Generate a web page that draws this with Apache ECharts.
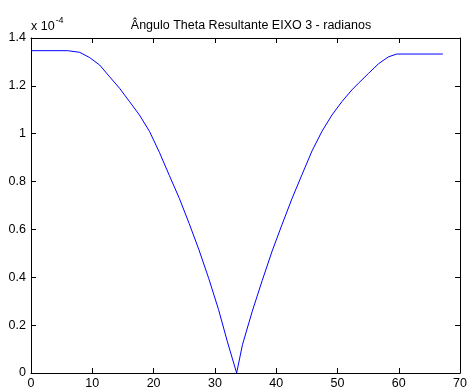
<!DOCTYPE html>
<html>
<head>
<meta charset="utf-8">
<script src="https://cdn.jsdelivr.net/npm/echarts@6/dist/echarts.min.js"></script>
<style>
  html, body { margin: 0; padding: 0; background: #fff; }
  #chart { width: 470px; height: 390px; }
</style>
</head>
<body>
<div id="chart"></div>
<script>
// valores em unidades de 10^-4 rad
var xValues = [0, 6.0, 7.96, 9.58, 11.2, 12.83, 14.45, 16.08, 17.7, 19.33, 20.95, 22.58, 24.2, 25.8, 27.4, 29.0, 30.6, 32.05, 33.55,
  34.5, 36.1, 37.73, 39.35, 40.98, 42.6, 44.23, 45.85, 47.47, 49.1, 50.72, 52.35, 53.43, 55.06, 56.68, 58.3, 59.66, 67.2];
var yValues = [1.347, 1.347, 1.340, 1.318, 1.287, 1.238, 1.190, 1.134, 1.078, 1.010, 0.922, 0.825, 0.730, 0.625, 0.515, 0.395, 0.265, 0.130, 0.0,
  0.118, 0.258, 0.387, 0.510, 0.622, 0.730, 0.830, 0.928, 1.010, 1.078, 1.134, 1.183, 1.211, 1.252, 1.292, 1.321, 1.333, 1.333];
var xTicks = [0, 10, 20, 30, 40, 50, 60, 70];
var yTicks = [0, 0.2, 0.4, 0.6, 0.8, 1, 1.2, 1.4];

var font = "Liberation Sans, Arial, sans-serif";
var points = xValues.map(function (x, i) { return [x, yValues[i]]; });

var myChart = echarts.init(document.getElementById("chart"));
var axisBase = {
  type: "value",
  axisLine: { show: true, onZero: false, lineStyle: { color: "#000", width: 1 } },
  axisTick: { show: true, inside: true, length: 5, lineStyle: { color: "#000" } },
  splitLine: { show: false }
};
myChart.setOption({
  animation: false,
  backgroundColor: "#fff",
  title: {
    text: "Ângulo Theta Resultante EIXO 3 - radianos",
    left: 246,
    textAlign: "center",
    top: 14,
    textStyle: { fontFamily: font, fontSize: 12.5, fontWeight: "normal", color: "#000" }
  },
  graphic: [{
    type: "text",
    left: 31,
    top: 16,
    style: {
      text: "{a|x 10}{b|-4}",
      rich: {
        a: { fontFamily: font, fontSize: 12.5, fill: "#000", padding: [6, 0, 0, 0] },
        b: { fontFamily: font, fontSize: 9, fill: "#000", padding: [0, 0, 6, 1] }
      }
    }
  }],
  grid: { left: 31, right: 8, top: 38, bottom: 17, containLabel: false },
  xAxis: [
    Object.assign({}, axisBase, {
      min: 0, max: 70, interval: 10, position: "bottom",
      axisLabel: { show: true, color: "#000", fontFamily: font, fontSize: 12.5, margin: 4,
        formatter: function (v) { return xTicks.indexOf(v) >= 0 ? String(v) : ""; } }
    }),
    Object.assign({}, axisBase, {
      min: 0, max: 70, interval: 10, position: "top",
      axisLabel: { show: false }
    })
  ],
  yAxis: [
    Object.assign({}, axisBase, {
      min: 0, max: 1.4, interval: 0.2, position: "left",
      axisLabel: { show: true, color: "#000", fontFamily: font, fontSize: 12.5, margin: 5,
        formatter: function (v) {
          var t = yTicks.find(function (k) { return Math.abs(k - v) < 1e-9; });
          return t === undefined ? "" : String(t);
        } }
    }),
    Object.assign({}, axisBase, {
      min: 0, max: 1.4, interval: 0.2, position: "right",
      axisLabel: { show: false }
    })
  ],
  series: [{
    type: "line",
    data: points,
    showSymbol: false,
    smooth: false,
    lineStyle: { color: "#0000ff", width: 1 },
    itemStyle: { color: "#0000ff" }
  }]
});
</script>
</body>
</html>
